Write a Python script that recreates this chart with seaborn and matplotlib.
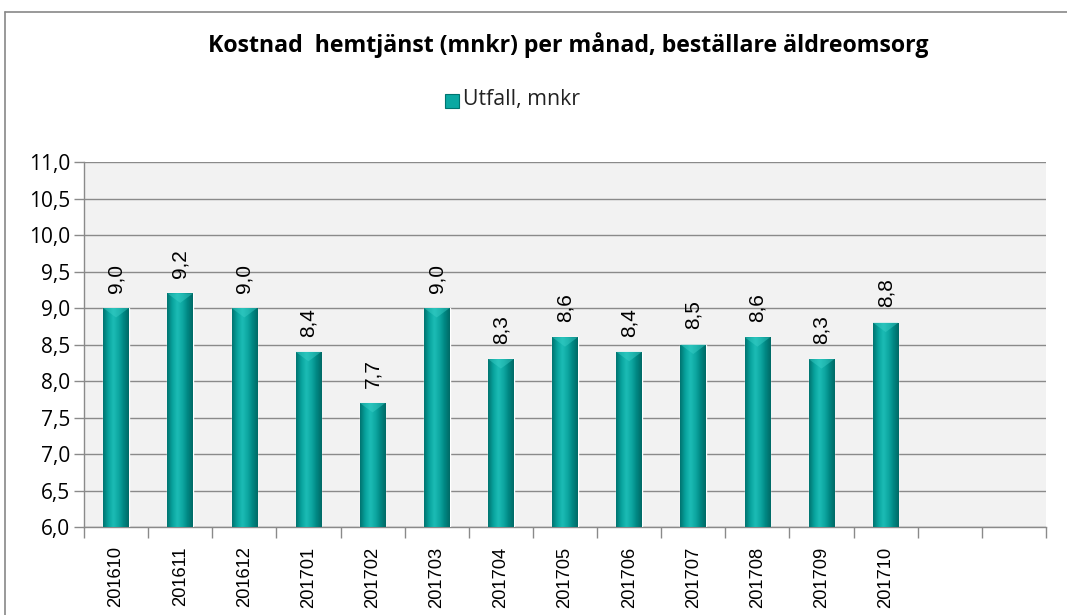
import numpy as np
import pandas as pd
import matplotlib
matplotlib.use("Agg")
import matplotlib.pyplot as plt
import seaborn as sns
from matplotlib.colors import LinearSegmentedColormap
from matplotlib.ticker import FuncFormatter, FixedLocator
from matplotlib.lines import Line2D
from matplotlib.patches import Polygon

# Data
months = ["201610", "201611", "201612", "201701", "201702", "201703", "201704",
          "201705", "201706", "201707", "201708", "201709", "201710"]
utfall = [9.0, 9.2, 9.0, 8.4, 7.7, 9.0, 8.3, 8.6, 8.4, 8.5, 8.6, 8.3, 8.8]
n_slots = 15  # two empty months at the end
yticks = [6.0, 6.5, 7.0, 7.5, 8.0, 8.5, 9.0, 9.5, 10.0, 10.5, 11.0]

title = "Kostnad  hemtjänst (mnkr) per månad, beställare äldreomsorg"
series_name = "Utfall, mnkr"

df = pd.DataFrame({"month": months, "value": utfall})

sns.set_theme(style="white")
plt.rcParams['font.family'] = ['Open Sans', 'DejaVu Sans']

grid_col = "#8a8a8a"
bar_col = "#0aa8a2"

fig = plt.figure(figsize=(10.67, 6.15), dpi=100)
fig.patch.set_facecolor("white")
ax = fig.add_axes([84 / 1067, 88 / 615, (1046 - 84) / 1067, (527 - 162) / 615])
ax.set_facecolor("#f2f2f2")

sns.barplot(data=df, x="month", y="value", color=bar_col, width=0.4,
            saturation=1, ax=ax, zorder=3)

ax.set_xlim(-0.5, n_slots - 0.5)
ax.set_ylim(6.0, 11.0)
y_bottom = ax.get_ylim()[0]

# cylinder-like shading on each bar, plus the lighter bevel on top
cmap = LinearSegmentedColormap.from_list(
    "teal", ["#007470", "#08a39d", "#1cbcb5", "#0ea8a2", "#008783", "#006a66"])
grad = np.linspace(0, 1, 64).reshape(1, -1)
bevel = 0.13
for p in list(ax.patches):
    x0, w = p.get_x(), p.get_width()
    h = p.get_height()
    im = ax.imshow(grad, extent=[x0, x0 + w, y_bottom, h], aspect="auto", cmap=cmap,
                   zorder=3.5, interpolation="bicubic")
    im.set_clip_path(p)
    ax.add_patch(Polygon([(x0, h), (x0 + w, h), (x0 + w / 2, h - bevel)],
                         closed=True, facecolor="#3cd0c8", alpha=0.45,
                         edgecolor="none", zorder=3.6))

ax.set_xlim(-0.5, n_slots - 0.5)
ax.set_ylim(6.0, 11.0)
ax.set_aspect("auto")

ax.yaxis.set_major_locator(FixedLocator(yticks))
ax.yaxis.set_major_formatter(FuncFormatter(lambda v, _: f"{v:.1f}".replace(".", ",")))
ax.grid(axis="y", color=grid_col, linewidth=1, zorder=1)
ax.set_axisbelow(True)

ax.set_xticks(range(len(months)))
ax.set_xticklabels(months, rotation=90, fontsize=13.2, family=['Liberation Sans'])
ax.set_xticks(np.arange(-0.5, n_slots, 1), minor=True)
ax.tick_params(axis="x", which="major", length=0, pad=14, labelcolor="black")
ax.tick_params(axis="x", which="minor", length=8, width=1, color=grid_col, bottom=True)
ax.tick_params(axis="y", length=7, width=1, color=grid_col, left=True,
               labelsize=15, pad=3, labelcolor="black")

for s in ["top", "right"]:
    ax.spines[s].set_visible(False)
for s in ["left", "bottom"]:
    ax.spines[s].set_color(grid_col)
    ax.spines[s].set_linewidth(1)

ax.set_xlabel("")
ax.set_ylabel("")

labels = [f"{v:.1f}".replace(".", ",") for v in utfall]
ax.bar_label(ax.containers[0], labels=labels, rotation=90, padding=11,
             fontsize=15, family=['Liberation Sans'], color="black")

# title and legend
fig.text(568 / 1067, 1 - 45 / 615, title, ha="center", va="center",
         fontsize=16.7, fontweight="bold", color="black")
fig.text(463 / 1067, 1 - 100 / 615, series_name, ha="left", va="center",
         fontsize=15.3, color="#222222")
fig.patches.append(plt.Rectangle((445 / 1067, 1 - 108 / 615), 14 / 1067, 14 / 615,
                                 transform=fig.transFigure, facecolor=bar_col,
                                 edgecolor="#007470", linewidth=0.8))

# outer chart frame
fig.add_artist(Line2D([5 / 1067, 1], [1 - 12 / 615, 1 - 12 / 615],
                      color="#888888", linewidth=1.2))
fig.add_artist(Line2D([5 / 1067, 5 / 1067], [0, 1 - 12 / 615],
                      color="#888888", linewidth=1.2))

fig.savefig("out.png", dpi=100)
